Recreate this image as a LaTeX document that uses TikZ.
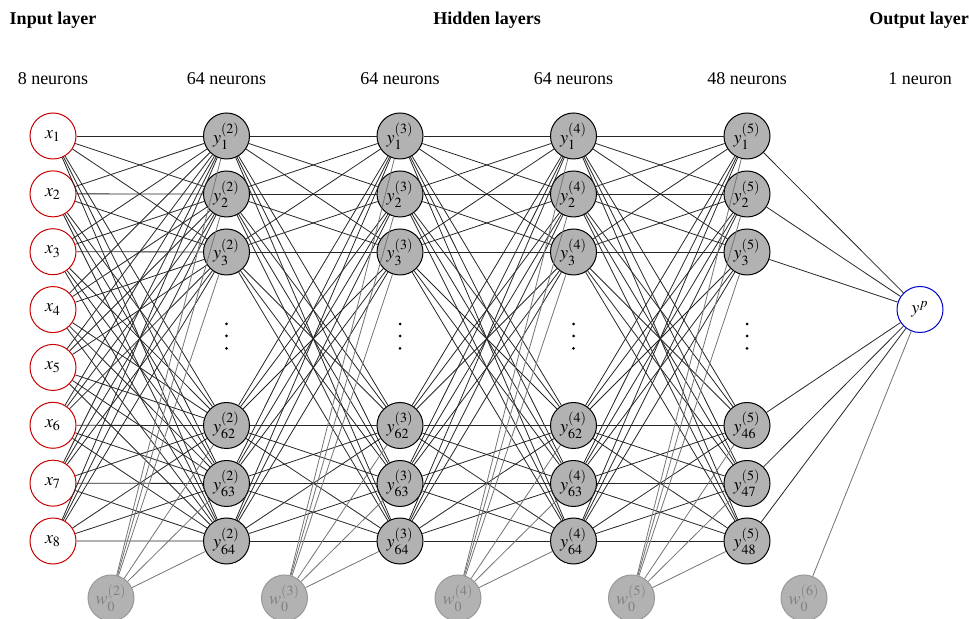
\documentclass[tikz,border=0pt]{standalone}
\usepackage{mathptmx}
\usepackage{fontspec}
\setmainfont{Liberation Serif}
\definecolor{inred}{RGB}{200,0,0}
\definecolor{outblue}{RGB}{0,0,200}
\begin{document}
\begin{tikzpicture}[x=0.5pt,y=-0.5pt,
  font=\fontsize{9}{11}\selectfont,
  neuron/.style={circle, minimum size=23pt, inner sep=0pt, line width=0.5pt},
  inneuron/.style={neuron, draw=inred, fill=white},
  hidden/.style={neuron, draw=black, fill=black!30},
  outneuron/.style={neuron, draw=outblue, fill=white},
  bias/.style={neuron, draw=black!40, fill=black!30, text=black!50},
  link/.style={draw=black!85, line width=0.4pt},
  biaslink/.style={draw=black!55, line width=0.4pt},
  head/.style={anchor=base, font=\fontsize{9}{11}\selectfont\bfseries},
  count/.style={anchor=base}]
\useasboundingbox (0,0) rectangle (969,619);

% titles and neuron counts
\node[head] (tin) at (53,25) {Input layer};
\node[head] (thid) at (487,25) {Hidden layers};
\node[head] (tout) at (919,25) {Output layer};
\node[count] (c1) at (53,85) {8 neurons};
\node[count] (c2) at (226.5,85) {64 neurons};
\node[count] (c3) at (400,85) {64 neurons};
\node[count] (c4) at (573.5,85) {64 neurons};
\node[count] (c5) at (747,85) {48 neurons};
\node[count] (c6) at (920,85) {1 neuron};

% input layer
\foreach \i in {1,...,8}
  \node[inneuron] (in\i) at (53,{136+57.86*(\i-1)}) {$x_{\i}$};

% hidden layers
\foreach \L/\X/\a/\b/\c in {2/226.5/62/63/64, 3/400/62/63/64, 4/573.5/62/63/64, 5/747/46/47/48}{
  \foreach \p/\lab/\yy in {1/1/136, 2/2/194, 3/3/252, 4/\a/425.5, 5/\b/483.5, 6/\c/541}
    \node[hidden] (h\L-\p) at (\X,\yy) {$y^{(\L)}_{\lab}$};
  \foreach \yy in {324,336,348.3}
    \fill (\X,\yy) circle[radius=0.75pt];
}

% output neuron
\node[outneuron] (out) at (920,309.5) {$y^{p}$};

% bias units
\foreach \k/\X in {2/111,3/284.5,4/458,5/631.5,6/804}
  \node[bias] (w\k) at (\X,598) {$w_0^{(\k)}$};

% weighted connections
\foreach \i in {1,...,8}
  \foreach \j in {1,...,6}
    \draw[link] (in\i) -- (h2-\j);
\foreach \L/\M in {2/3,3/4,4/5}
  \foreach \i in {1,...,6}
    \foreach \j in {1,...,6}
      \draw[link] (h\L-\i) -- (h\M-\j);
\foreach \i in {1,...,6}
  \draw[link] (h5-\i) -- (out);

% bias connections
\foreach \L in {2,...,5}
  \foreach \j in {1,...,6}
    \draw[biaslink] (w\L) -- (h\L-\j);
\draw[biaslink] (w6) -- (out);
\end{tikzpicture}
\end{document}
